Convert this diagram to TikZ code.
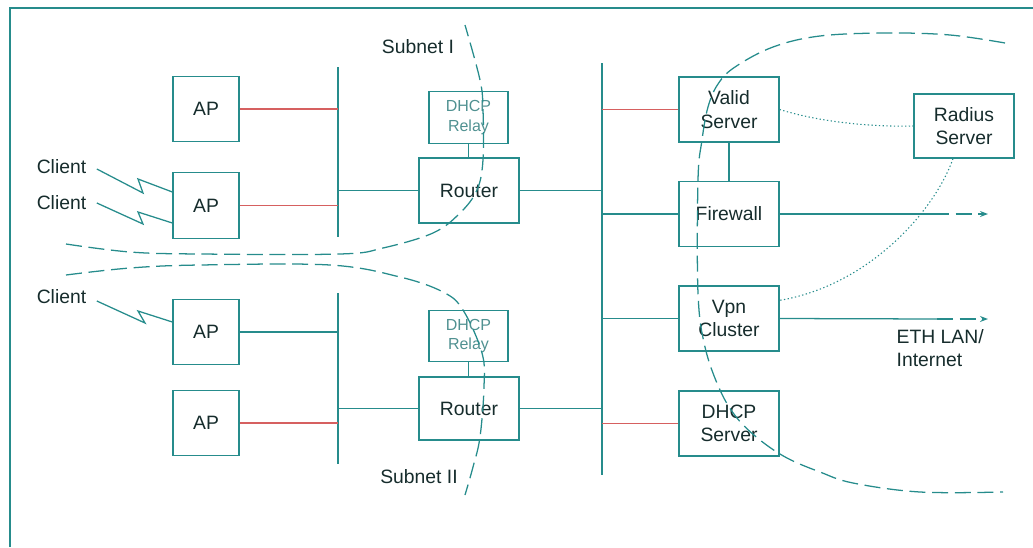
\documentclass[tikz,border=0pt]{standalone}
\usepackage{fontspec}
\setmainfont{Liberation Sans}
\usetikzlibrary{calc,arrows.meta}
\definecolor{netteal}{RGB}{38,140,140}
\definecolor{netred}{RGB}{214,96,96}
\definecolor{inkdark}{RGB}{22,44,44}
\definecolor{inklight}{RGB}{80,145,145}
\begin{document}
\begin{tikzpicture}[x=0.75pt,y=-0.75pt,
  line width=0.95pt,
  box/.style={draw=netteal, inner sep=0pt, align=center,
    text=inkdark, font=\fontsize{14.5}{17.5}\selectfont},
  apbox/.style={box, minimum width=49.5pt, minimum height=49pt},
  srvbox/.style={box, minimum width=75pt, minimum height=48.75pt},
  relaybox/.style={box, minimum width=59.25pt, minimum height=38.5pt,
    text=inklight, font=\fontsize{12}{14.5}\selectfont},
  label/.style={inner sep=0pt, text=inkdark, font=\fontsize{14.5}{17.5}\selectfont},
  tealline/.style={draw=netteal},
  redline/.style={draw=netred},
  subnet/.style={draw=netteal, dash pattern=on 12pt off 5pt},
  radiuslink/.style={draw=netteal, line width=0.8pt, dash pattern=on 1pt off 1.8pt},
  uplink/.style={draw=netteal, -{Stealth[length=6pt,width=4.5pt]}, dash pattern=on 12pt off 5pt}
]
\useasboundingbox (0,0) rectangle (1033,547);

% outer frame
\draw[netteal] (10,547) -- (10,8) -- (1033,8);

% bus lines
\coordinate (b1t) at (338,67);  \coordinate (b1b) at (338,237);
\coordinate (b3t) at (338,293); \coordinate (b3b) at (338,464);
\coordinate (b2t) at (602,63);  \coordinate (b2b) at (602,475);
\draw[tealline] (b1t) -- (b1b);
\draw[tealline] (b3t) -- (b3b);
\draw[tealline] (b2t) -- (b2b);

% access points
\node[apbox] (ap1) at (206,109) {AP};
\node[apbox] (ap2) at (206,205.5) {AP};
\node[apbox] (ap3) at (206,332) {AP};
\node[apbox] (ap4) at (206,423) {AP};

% relays and routers
\node[relaybox] (relay1) at (468.5,117.5) {DHCP\\Relay};
\node[srvbox, minimum height=48.75pt] (router1) at (469,190.5) {Router};
\node[relaybox] (relay2) at (468.5,336) {DHCP\\Relay};
\node[srvbox, minimum height=47.25pt] (router2) at (469,408.5) {Router};

% servers
\node[srvbox] (valid) at (729,109.5) {Valid\\Server};
\node[srvbox] (firewall) at (729,214) {Firewall};
\node[srvbox] (vpn) at (729,318.5) {Vpn\\Cluster};
\node[srvbox] (dhcpsrv) at (729,423.5) {DHCP\\Server};
\node[srvbox, minimum height=48pt] (radius) at (964,126) {Radius\\Server};

% subnet boundaries
\draw[subnet] plot[smooth, tension=0.6] coordinates {
  (66,244) (130,252) (200,254) (340,254) (383,248) (433,233) (460,213)
  (477,190) (483,160) (483,110) (480,80) (465,25)};
\draw[subnet] plot[smooth, tension=0.6] coordinates {
  (66,275) (130,268) (200,265) (330,265) (400,277) (443,292) (463,310)
  (482,353) (484,387) (480,437) (473,467) (465,495)};
\draw[subnet] plot[smooth, tension=0.6] coordinates {
  (1005,43) (950,35) (887,33) (820,36) (773,47) (735,67) (718,84) (708,107)
  (702,140) (698,180) (698,293) (705,347) (720,390) (737,418) (760,440)
  (787,458) (820,472) (853,483) (920,492) (1003,492)};

% access point uplinks
\draw[redline] (ap1.east) -- (ap1.east -| b1t);
\draw[redline] (ap2.east) -- (ap2.east -| b1t);
\draw[tealline] (ap3.east) -- (ap3.east -| b3t);
\draw[redline] (ap4.east) -- (ap4.east -| b3t);

% routers to buses
\draw[tealline] (router1.west) -- (router1.west -| b1t);
\draw[tealline] (router1.east) -- (router1.east -| b2t);
\draw[tealline] (router2.west) -- (router2.west -| b3t);
\draw[tealline] (router2.east) -- (router2.east -| b2t);
\draw[tealline] (relay1.south) -- (relay1.south |- router1.north);
\draw[tealline] (relay2.south) -- (relay2.south |- router2.north);

% servers to backbone
\draw[redline] (valid.west) -- (valid.west -| b2t);
\draw[tealline] (firewall.west) -- (firewall.west -| b2t);
\draw[tealline] (vpn.west) -- (vpn.west -| b2t);
\draw[redline] (dhcpsrv.west) -- (dhcpsrv.west -| b2t);
\draw[tealline] (valid.south) -- (valid.south |- firewall.north);

% outside links
\coordinate (fwmid) at (933,214);
\coordinate (fwend) at (988,214);
\coordinate (vpnmid) at (937,319);
\coordinate (vpnend) at (988,319);
\draw[tealline] (firewall.east) -- (fwmid);
\draw[uplink] (fwmid) -- (fwend);
\draw[tealline] (vpn.east) -- (vpnmid);
\draw[uplink] (vpnmid) -- (vpnend);

% radius links
\draw[radiuslink] (valid.east) .. controls (820,122) and (870,127) .. (radius.west);
\draw[radiuslink] ($(radius.south)+(-11,0)$) .. controls (935,210) and (870,285) .. ($(vpn.north east)+(0,15)$);

% wireless clients
\node[label] (c1) at (61.5,167) {Client};
\node[label] (c2) at (61.5,203) {Client};
\node[label] (c3) at (61.5,297) {Client};
\draw[tealline] ($(c1.east)+(10,2)$) -- (143,193) -- (138,179) -- ($(ap2.west)+(0,-13.5)$);
\draw[tealline] ($(c2.east)+(10,0)$) -- (143,224) -- (138,212) -- ($(ap2.west)+(0,17.5)$);
\draw[tealline] ($(c3.east)+(10,4)$) -- (145,323) -- (138,311) -- ($(ap3.west)+(0,-10)$);

% text labels
\node[label] (sub1) at (418,47) {Subnet I};
\node[label] (sub2) at (419,477) {Subnet II};
\node[label, anchor=west, align=left] (eth) at (896,348) {ETH LAN/\\Internet};
\end{tikzpicture}
\end{document}
